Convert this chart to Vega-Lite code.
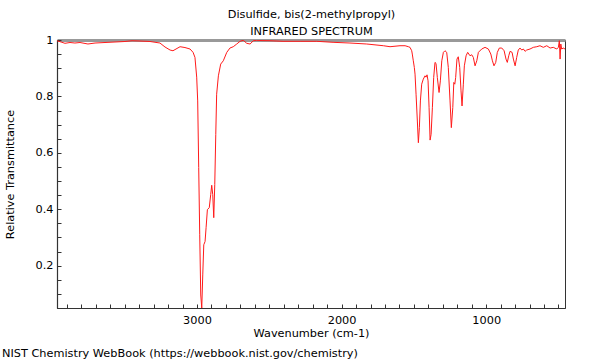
{
  "$schema": "https://vega.github.io/schema/vega-lite/v6.json",
  "width": 508,
  "height": 268,
  "autosize": "none",
  "padding": {"left": 57, "top": 40, "right": 35, "bottom": 52},
  "background": "white",
  "config": {
    "font": "DejaVu Sans",
    "view": {"stroke": "#333", "strokeWidth": 1},
    "axis": {"labelFont": "DejaVu Sans", "titleFont": "DejaVu Sans", "labelColor": "#000", "titleColor": "#000", "titleFontWeight": "normal", "grid": false}
  },
  "title": {
    "text": "NIST Chemistry WebBook (https://webbook.nist.gov/chemistry)",
    "orient": "bottom",
    "anchor": "start",
    "frame": "bounds",
    "fontSize": 11.3,
    "fontWeight": "normal",
    "color": "#000",
    "offset": 9,
    "dx": -2
  },
  "data": {
    "values": [
      {"wavenumber": 3968, "transmittance": 0.9975},
      {"wavenumber": 3940, "transmittance": 0.9929},
      {"wavenumber": 3913, "transmittance": 0.9883},
      {"wavenumber": 3878, "transmittance": 0.9911},
      {"wavenumber": 3844, "transmittance": 0.9893},
      {"wavenumber": 3809, "transmittance": 0.9911},
      {"wavenumber": 3754, "transmittance": 0.9858},
      {"wavenumber": 3705, "transmittance": 0.9893},
      {"wavenumber": 3636, "transmittance": 0.9911},
      {"wavenumber": 3567, "transmittance": 0.9929},
      {"wavenumber": 3498, "transmittance": 0.9947},
      {"wavenumber": 3449, "transmittance": 0.9975},
      {"wavenumber": 3394, "transmittance": 0.9964},
      {"wavenumber": 3325, "transmittance": 0.9947},
      {"wavenumber": 3256, "transmittance": 0.9893},
      {"wavenumber": 3221, "transmittance": 0.9751},
      {"wavenumber": 3186, "transmittance": 0.9644},
      {"wavenumber": 3166, "transmittance": 0.9619},
      {"wavenumber": 3145, "transmittance": 0.968},
      {"wavenumber": 3117, "transmittance": 0.9762},
      {"wavenumber": 3083, "transmittance": 0.9733},
      {"wavenumber": 3048, "transmittance": 0.968},
      {"wavenumber": 3027, "transmittance": 0.9562},
      {"wavenumber": 3014, "transmittance": 0.9384},
      {"wavenumber": 3002, "transmittance": 0.8683},
      {"wavenumber": 2995, "transmittance": 0.784},
      {"wavenumber": 2988, "transmittance": 0.548},
      {"wavenumber": 2981, "transmittance": 0.3096},
      {"wavenumber": 2974, "transmittance": 0.0961},
      {"wavenumber": 2967, "transmittance": 0.05},
      {"wavenumber": 2960, "transmittance": 0.1673},
      {"wavenumber": 2953, "transmittance": 0.274},
      {"wavenumber": 2944, "transmittance": 0.2858},
      {"wavenumber": 2937, "transmittance": 0.3345},
      {"wavenumber": 2928, "transmittance": 0.3986},
      {"wavenumber": 2915, "transmittance": 0.4057},
      {"wavenumber": 2905, "transmittance": 0.452},
      {"wavenumber": 2898, "transmittance": 0.4851},
      {"wavenumber": 2891, "transmittance": 0.452},
      {"wavenumber": 2884, "transmittance": 0.3701},
      {"wavenumber": 2877, "transmittance": 0.4875},
      {"wavenumber": 2870, "transmittance": 0.6655},
      {"wavenumber": 2864, "transmittance": 0.8078},
      {"wavenumber": 2852, "transmittance": 0.873},
      {"wavenumber": 2836, "transmittance": 0.9146},
      {"wavenumber": 2818, "transmittance": 0.9263},
      {"wavenumber": 2794, "transmittance": 0.9562},
      {"wavenumber": 2772, "transmittance": 0.9715},
      {"wavenumber": 2749, "transmittance": 0.9762},
      {"wavenumber": 2725, "transmittance": 0.9858},
      {"wavenumber": 2702, "transmittance": 0.9954},
      {"wavenumber": 2680, "transmittance": 0.999},
      {"wavenumber": 2656, "transmittance": 0.9883},
      {"wavenumber": 2633, "transmittance": 0.9858},
      {"wavenumber": 2610, "transmittance": 0.9975},
      {"wavenumber": 2587, "transmittance": 0.999},
      {"wavenumber": 2550, "transmittance": 0.998},
      {"wavenumber": 2495, "transmittance": 0.9975},
      {"wavenumber": 2405, "transmittance": 0.9954},
      {"wavenumber": 2287, "transmittance": 0.9954},
      {"wavenumber": 2172, "transmittance": 0.9954},
      {"wavenumber": 2059, "transmittance": 0.9918},
      {"wavenumber": 1942, "transmittance": 0.9893},
      {"wavenumber": 1826, "transmittance": 0.9858},
      {"wavenumber": 1711, "transmittance": 0.9797},
      {"wavenumber": 1665, "transmittance": 0.9762},
      {"wavenumber": 1596, "transmittance": 0.9797},
      {"wavenumber": 1561, "transmittance": 0.9797},
      {"wavenumber": 1538, "transmittance": 0.9762},
      {"wavenumber": 1527, "transmittance": 0.974},
      {"wavenumber": 1515, "transmittance": 0.9619},
      {"wavenumber": 1511, "transmittance": 0.9502},
      {"wavenumber": 1504, "transmittance": 0.9263},
      {"wavenumber": 1497, "transmittance": 0.9028},
      {"wavenumber": 1492, "transmittance": 0.879},
      {"wavenumber": 1485, "transmittance": 0.8078},
      {"wavenumber": 1476, "transmittance": 0.7128},
      {"wavenumber": 1469, "transmittance": 0.6359},
      {"wavenumber": 1462, "transmittance": 0.6904},
      {"wavenumber": 1455, "transmittance": 0.784},
      {"wavenumber": 1446, "transmittance": 0.8434},
      {"wavenumber": 1435, "transmittance": 0.8612},
      {"wavenumber": 1423, "transmittance": 0.873},
      {"wavenumber": 1416, "transmittance": 0.8683},
      {"wavenumber": 1409, "transmittance": 0.8765},
      {"wavenumber": 1402, "transmittance": 0.8552},
      {"wavenumber": 1395, "transmittance": 0.7616},
      {"wavenumber": 1388, "transmittance": 0.6452},
      {"wavenumber": 1381, "transmittance": 0.6655},
      {"wavenumber": 1372, "transmittance": 0.7616},
      {"wavenumber": 1363, "transmittance": 0.8673},
      {"wavenumber": 1354, "transmittance": 0.9206},
      {"wavenumber": 1347, "transmittance": 0.9171},
      {"wavenumber": 1338, "transmittance": 0.8673},
      {"wavenumber": 1326, "transmittance": 0.8139},
      {"wavenumber": 1317, "transmittance": 0.8552},
      {"wavenumber": 1307, "transmittance": 0.9263},
      {"wavenumber": 1296, "transmittance": 0.9562},
      {"wavenumber": 1285, "transmittance": 0.9619},
      {"wavenumber": 1273, "transmittance": 0.9562},
      {"wavenumber": 1262, "transmittance": 0.9028},
      {"wavenumber": 1250, "transmittance": 0.784},
      {"wavenumber": 1241, "transmittance": 0.6893},
      {"wavenumber": 1231, "transmittance": 0.7605},
      {"wavenumber": 1224, "transmittance": 0.8495},
      {"wavenumber": 1217, "transmittance": 0.8434},
      {"wavenumber": 1211, "transmittance": 0.8673},
      {"wavenumber": 1202, "transmittance": 0.9324},
      {"wavenumber": 1193, "transmittance": 0.9406},
      {"wavenumber": 1183, "transmittance": 0.9028},
      {"wavenumber": 1174, "transmittance": 0.8196},
      {"wavenumber": 1167, "transmittance": 0.7662},
      {"wavenumber": 1158, "transmittance": 0.8434},
      {"wavenumber": 1151, "transmittance": 0.9085},
      {"wavenumber": 1139, "transmittance": 0.9441},
      {"wavenumber": 1128, "transmittance": 0.9562},
      {"wavenumber": 1112, "transmittance": 0.9441},
      {"wavenumber": 1100, "transmittance": 0.9477},
      {"wavenumber": 1089, "transmittance": 0.9384},
      {"wavenumber": 1077, "transmittance": 0.9085},
      {"wavenumber": 1065, "transmittance": 0.9263},
      {"wavenumber": 1054, "transmittance": 0.9562},
      {"wavenumber": 1031, "transmittance": 0.968},
      {"wavenumber": 1008, "transmittance": 0.974},
      {"wavenumber": 985, "transmittance": 0.968},
      {"wavenumber": 968, "transmittance": 0.9502},
      {"wavenumber": 957, "transmittance": 0.9263},
      {"wavenumber": 946, "transmittance": 0.9085},
      {"wavenumber": 934, "transmittance": 0.9206},
      {"wavenumber": 923, "transmittance": 0.9562},
      {"wavenumber": 909, "transmittance": 0.9715},
      {"wavenumber": 892, "transmittance": 0.9715},
      {"wavenumber": 876, "transmittance": 0.9619},
      {"wavenumber": 863, "transmittance": 0.9324},
      {"wavenumber": 854, "transmittance": 0.9206},
      {"wavenumber": 844, "transmittance": 0.9441},
      {"wavenumber": 835, "transmittance": 0.9598},
      {"wavenumber": 821, "transmittance": 0.9562},
      {"wavenumber": 812, "transmittance": 0.9324},
      {"wavenumber": 800, "transmittance": 0.9085},
      {"wavenumber": 789, "transmittance": 0.9384},
      {"wavenumber": 778, "transmittance": 0.9644},
      {"wavenumber": 766, "transmittance": 0.9715},
      {"wavenumber": 754, "transmittance": 0.9644},
      {"wavenumber": 743, "transmittance": 0.968},
      {"wavenumber": 731, "transmittance": 0.9598},
      {"wavenumber": 720, "transmittance": 0.9644},
      {"wavenumber": 697, "transmittance": 0.968},
      {"wavenumber": 674, "transmittance": 0.974},
      {"wavenumber": 650, "transmittance": 0.9762},
      {"wavenumber": 628, "transmittance": 0.9797},
      {"wavenumber": 605, "transmittance": 0.974},
      {"wavenumber": 581, "transmittance": 0.9797},
      {"wavenumber": 558, "transmittance": 0.9715},
      {"wavenumber": 536, "transmittance": 0.974},
      {"wavenumber": 512, "transmittance": 0.968},
      {"wavenumber": 501, "transmittance": 0.974},
      {"wavenumber": 494, "transmittance": 0.9975},
      {"wavenumber": 489, "transmittance": 0.9324},
      {"wavenumber": 484, "transmittance": 0.9858},
      {"wavenumber": 478, "transmittance": 0.968},
      {"wavenumber": 467, "transmittance": 0.9715},
      {"wavenumber": 455, "transmittance": 0.968}
    ]
  },
  "layer": [
    {
      "mark": {"type": "line", "color": "#ff1a1a", "strokeWidth": 1, "clip": true, "interpolate": "linear"},
      "encoding": {
        "x": {
          "field": "wavenumber", "type": "quantitative",
          "scale": {"domain": [3968, 455], "nice": false, "zero": false},
          "axis": {
            "title": "Wavenumber (cm-1)",
            "titleFontSize": 11.3,
            "titlePadding": 2,
            "labelFontSize": 11.3,
            "values": [500, 600, 700, 800, 900, 1000, 1100, 1200, 1300, 1400, 1500, 1600, 1700, 1800, 1900, 2000, 2100, 2200, 2300, 2400, 2500, 2600, 2700, 2800, 2900, 3000, 3100, 3200, 3300, 3400, 3500, 3600, 3700, 3800, 3900],
            "labelExpr": "datum.value % 1000 == 0 ? format(datum.value, 'd') : ''",
            "tickSize": -4,
            "tickColor": "#333",
            "tickWidth": 1,
            "domainColor": "#333",
            "domainWidth": 1.2,
            "labelPadding": 10,
            "labelFlush": false,
            "labelOverlap": false
          }
        },
        "y": {
          "field": "transmittance", "type": "quantitative",
          "scale": {"domain": [0.05, 1], "nice": false, "zero": false},
          "axis": {
            "title": "Relative Transmittance",
            "titleFontSize": 11.3,
            "titlePadding": 20,
            "labelFontSize": 11.3,
            "values": [0.05, 0.1, 0.15, 0.2, 0.25, 0.3, 0.35, 0.4, 0.45, 0.5, 0.55, 0.6, 0.65, 0.7, 0.75, 0.8, 0.85, 0.9, 0.95, 1],
            "labelExpr": "abs(datum.value * 5 - round(datum.value * 5)) < 0.001 ? (datum.value > 0.999 ? '1' : format(datum.value, '.1f')) : ''",
            "tickSize": -4,
            "tickColor": "#333",
            "tickWidth": 1,
            "domainColor": "#333",
            "domainWidth": 1.2,
            "labelPadding": 8,
            "labelFlush": false,
            "labelOverlap": false
          }
        }
      }
    },
    {
      "mark": {"type": "line", "strokeOpacity": 0},
      "encoding": {
        "x": {
          "field": "wavenumber", "type": "quantitative",
          "axis": {
            "orient": "top",
            "title": ["Disulfide, bis(2-methylpropyl)", "INFRARED SPECTRUM"],
            "titleFontSize": 11.3,
            "titleLineHeight": 17,
            "titlePadding": 4,
            "labels": false,
            "ticks": false,
            "domainColor": "#999",
            "domainWidth": 3
          }
        }
      }
    }
  ],
  "resolve": {"axis": {"x": "independent"}}
}
